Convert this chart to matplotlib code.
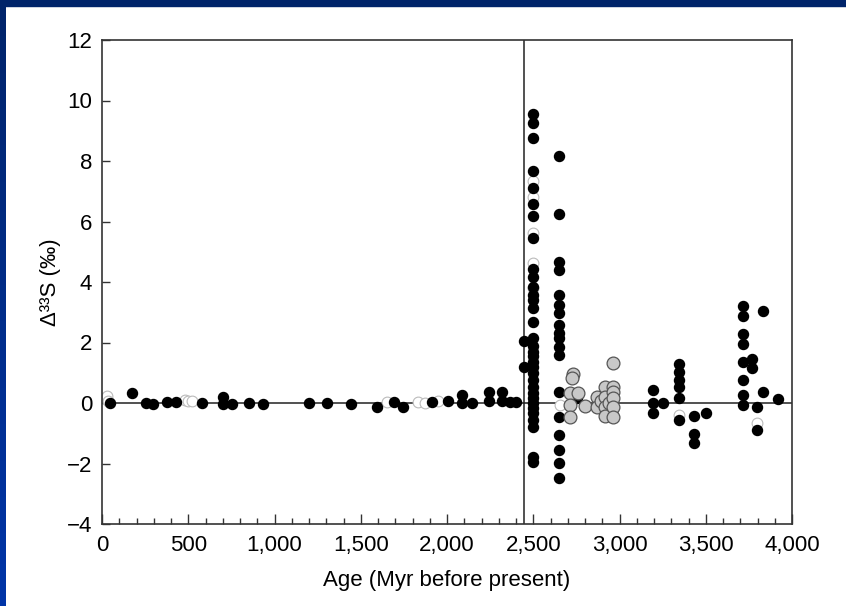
import numpy as np
import matplotlib.pyplot as plt
from matplotlib.patches import Rectangle
from matplotlib.ticker import MultipleLocator, FuncFormatter

plt.rcParams['font.family'] = ['Liberation Sans', 'DejaVu Sans']

# black dots: age (Myr), delta33S (permil)
age_black = [46, 174, 255, 296, 377, 429, 580, 701, 701, 754, 852, 933,
             1200, 1304, 1443, 1594, 1693, 1745, 1913, 2006, 2087, 2087,
             2145, 2243, 2243, 2319, 2319, 2365, 2400, 2446, 2446]
d33_black = [0.01, 0.32, -0.01, -0.03, 0.04, 0.04, 0.0, 0.2, -0.03, -0.03, 0.0, -0.03,
             0.0, 0.0, -0.03, -0.12, 0.03, -0.12, 0.02, 0.08, 0.26, 0.01,
             0.0, 0.35, 0.08, 0.35, 0.08, 0.04, 0.04, 2.05, 1.19]

# ~2.5 Gyr column
col2500 = [9.55, 9.25, 8.75, 7.68, 7.10, 6.57, 6.18, 5.46, 4.43, 4.17, 3.84,
           3.57, 3.40, 3.13, 2.69, 2.14, 1.87, 1.70, 1.54, 1.37, 1.18, 0.98,
           0.76, 0.54, 0.32, 0.15, -0.01, -0.18, -0.34, -0.56, -0.78, -1.78, -1.94]
# ~2.65 Gyr column
col2650 = [8.17, 6.24, 4.65, 4.40, 3.57, 3.24, 2.97, 2.58, 2.30, 2.14, 1.86,
           1.59, 0.37, -0.45, -1.06, -1.55, -1.99, -2.49]

age_old = [2754, 2920, 2960, 3194, 3194, 3194, 3250,
           3345, 3345, 3345, 3345, 3345, 3345, 3432, 3432, 3432, 3501,
           3716, 3716, 3716, 3716, 3716, 3716, 3716, 3716,
           3768, 3768, 3832, 3832, 3797, 3797, 3919]
d33_old = [0.16, 0.1, -0.2, 0.43, 0.01, -0.34, 0.0,
           1.28, 1.03, 0.76, 0.52, 0.18, -0.56, -0.43, -1.02, -1.31, -0.34,
           3.22, 2.88, 2.28, 1.95, 1.37, 0.76, 0.26, -0.08,
           1.45, 1.15, 3.05, 0.36, -0.12, -0.89, 0.12]

# grey circles
age_grey = [2728, 2722, 2713, 2760, 2713, 2800, 2713,
            2870, 2870, 2890, 2916, 2916, 2916, 2916, 2940,
            2962, 2962, 2962, 2962, 2962, 2962]
d33_grey = [0.95, 0.82, 0.32, 0.32, -0.07, -0.10, -0.45,
            0.20, -0.13, 0.05, 0.53, 0.20, -0.13, -0.43, 0.0,
            1.32, 0.53, 0.35, 0.15, -0.13, -0.45]

# faint open circles
age_open = [15, 30, 35, 480, 500, 520, 1652, 1832, 1872, 1950, 2500, 2500,
            2500, 2500, 2500, 2655, 3345, 3797]
d33_open = [0.15, 0.22, 0.08, 0.1, 0.05, 0.08, 0.03, 0.02, 0.0, 0.06, 7.35, 6.82,
            5.61, 4.62, 3.79, -0.07, -0.4, -0.67]

boundary_age = 2446

fig = plt.figure(figsize=(8.46, 6.06), dpi=100)

# slide frame: navy bar on top, blue gradient strip on the left
fig.add_artist(Rectangle((0, 1 - 6 / 606), 1, 6 / 606, transform=fig.transFigure,
                         color='#00246a', zorder=10))
band = fig.add_axes([0, 0, 5 / 846, 1], zorder=10)
band.imshow(np.linspace(0, 1, 100).reshape(-1, 1), aspect='auto',
            cmap=plt.matplotlib.colors.LinearSegmentedColormap.from_list(
                'frame', ['#00246a', '#0035a8']))
band.set_axis_off()

ax = fig.add_axes([102 / 846, 1 - 524 / 606, 690 / 846, 484 / 606])

ax.axhline(0, color='#222222', lw=1.1, zorder=1)
ax.axvline(boundary_age, color='#222222', lw=1.1, zorder=1)

ax.scatter(age_open, d33_open, s=60, facecolor='white', edgecolor='#bbbbbb',
           linewidth=0.8, zorder=2)
ax.scatter(age_black, d33_black, s=52, color='black', zorder=3)
ax.scatter([2500] * len(col2500), col2500, s=52, color='black', zorder=3)
ax.scatter([2650] * len(col2650), col2650, s=52, color='black', zorder=3)
ax.scatter(age_old, d33_old, s=52, color='black', zorder=3)
ax.scatter(age_grey, d33_grey, s=85, facecolor='#c8c8c8', edgecolor='#555555',
           linewidth=0.9, zorder=4)

ax.set_xlim(0, 4000)
ax.set_ylim(-4, 12)
ax.xaxis.set_major_locator(MultipleLocator(500))
ax.xaxis.set_minor_locator(MultipleLocator(100))
ax.yaxis.set_major_locator(MultipleLocator(2))
ax.xaxis.set_major_formatter(FuncFormatter(lambda v, p: f'{int(v):,}'))
ax.yaxis.set_major_formatter(FuncFormatter(lambda v, p: f'{int(v)}'.replace('-', '\u2212')))

ax.tick_params(axis='x', which='major', direction='in', length=7, width=1,
               color='#333333', labelsize=16, pad=8)
ax.tick_params(axis='x', which='minor', direction='in', length=4, width=1,
               color='#333333')
ax.tick_params(axis='y', direction='in', length=6, width=1, color='#333333',
               labelsize=16, pad=7)
for sp in ax.spines.values():
    sp.set_color('#333333')
    sp.set_linewidth(1.2)

ax.set_xlabel('Age (Myr before present)', fontsize=16, labelpad=10)
ax.set_ylabel('\u0394\u00b3\u00b3S (\u2030)', fontsize=16, labelpad=4)

fig.savefig('out.png', dpi=100)
